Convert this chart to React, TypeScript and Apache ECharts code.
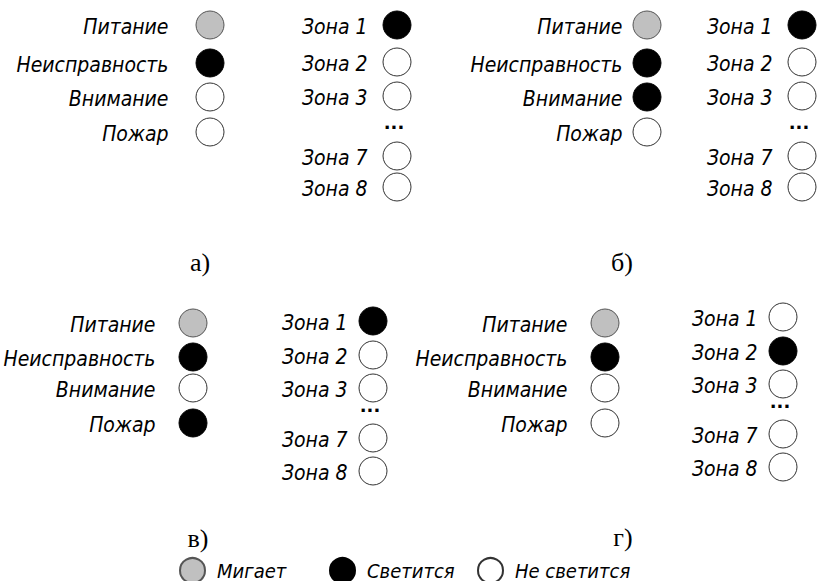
import React, { useEffect, useRef } from "react";
import * as echarts from "echarts";

// ---- data ----
const indicatorNames = ["Питание", "Неисправность", "Внимание", "Пожар"];
const zoneNames = ["Зона 1", "Зона 2", "Зона 3", "Зона 7", "Зона 8"];
const panelCaptions = ["а)", "б)", "в)", "г)"];
const stateNames = ["Мигает", "Светится", "Не светится"];
// 0 = Мигает, 1 = Светится, 2 = Не светится
const indicatorStatesA = [0, 1, 2, 2];
const indicatorStatesB = [0, 1, 1, 2];
const indicatorStatesC = [0, 1, 2, 1];
const indicatorStatesD = [0, 1, 2, 2];
const zoneStatesA = [1, 2, 2, 2, 2];
const zoneStatesB = [1, 2, 2, 2, 2];
const zoneStatesC = [1, 2, 2, 2, 2];
const zoneStatesD = [2, 1, 2, 2, 2];

// ---- layout ----
const W = 821;
const H = 581;
const FONT = '"DejaVu Sans Condensed", "DejaVu Sans", sans-serif';
const topIndOffsets = [0, 38, 72, 107];
const botIndOffsets = [0, 34, 65, 100];
const topZoneOffsets = [0, 37, 71, 131, 162];
const topDotsOffset = 102;
const botZoneOffsets = [0, 34, 67, 117, 150];
const botDotsOffset = 89;

const panels = [
  { ind: indicatorStatesA, zone: zoneStatesA, indX: 210, indY: 25, zoneX: 397, zoneY: 25, indGap: 27, zoneGap: 15, indOff: topIndOffsets, zoneOff: topZoneOffsets, dotsOff: topDotsOffset, cap: [200, 262] },
  { ind: indicatorStatesB, zone: zoneStatesB, indX: 647, indY: 25, zoneX: 802, zoneY: 25, indGap: 10, zoneGap: 15, indOff: topIndOffsets, zoneOff: topZoneOffsets, dotsOff: topDotsOffset, cap: [622, 262] },
  { ind: indicatorStatesC, zone: zoneStatesC, indX: 193, indY: 323, zoneX: 373, zoneY: 321, indGap: 23, zoneGap: 11, indOff: botIndOffsets, zoneOff: botZoneOffsets, dotsOff: botDotsOffset, cap: [198, 538] },
  { ind: indicatorStatesD, zone: zoneStatesD, indX: 605, indY: 323, zoneX: 783, zoneY: 317, indGap: 23, zoneGap: 11, indOff: botIndOffsets, zoneOff: botZoneOffsets, dotsOff: botDotsOffset, cap: [623, 537] },
];

const stateStyles = [
  { color: "#c0c0c0", borderColor: "#555", borderWidth: 1, opacity: 1 },
  { color: "#000000", borderColor: "#000", borderWidth: 1, opacity: 1 },
  { color: "#ffffff", borderColor: "#333", borderWidth: 1, opacity: 1 },
];

const labelText = {
  fontFamily: FONT,
  fontStyle: "italic" as const,
  fontSize: 21,
  color: "#000",
};

export default function App() {
  const ref = useRef<HTMLDivElement>(null);
  useEffect(() => {
    document.body.style.margin = "0";
    if (!ref.current) return;
    const chart = echarts.init(ref.current, undefined, { renderer: "svg" });

    const byState: any[][] = [[], [], []];
    const dots: any[] = [];
    panels.forEach((p) => {
      p.ind.forEach((s, i) => {
        byState[s].push({
          name: indicatorNames[i],
          value: [p.indX, p.indY + p.indOff[i]],
          label: { distance: p.indGap },
        });
      });
      p.zone.forEach((s, i) => {
        byState[s].push({
          name: zoneNames[i],
          value: [p.zoneX, p.zoneY + p.zoneOff[i]],
          label: { distance: p.zoneGap },
        });
      });
      dots.push({ name: "...", value: [p.zoneX - 3, p.zoneY + p.dotsOff] });
    });

    const series: any[] = stateNames.map((n, s) => ({
      type: "scatter",
      name: n,
      symbol: "circle",
      symbolSize: 28,
      data: byState[s],
      itemStyle: stateStyles[s],
      label: { show: true, position: "left", formatter: "{b}", offset: [0, 2], ...labelText },
      emphasis: { disabled: true },
      clip: false,
    }));
    series.push({
      type: "scatter",
      name: "dots",
      symbolSize: 0,
      data: dots,
      itemStyle: { opacity: 1 },
      label: {
        show: true,
        position: "inside",
        formatter: "{b}",
        fontFamily: "DejaVu Sans",
        fontWeight: "bold",
        fontSize: 18,
        color: "#000",
        offset: [0, -5],
      },
      emphasis: { disabled: true },
      clip: false,
    });

    const legendLefts = [179, 329, 477];
    const legends = stateNames.map((n, i) => ({
      data: [n],
      left: legendLefts[i],
      top: 557,
      padding: 0,
      icon: "circle",
      itemWidth: 25,
      itemHeight: 25,
      selectedMode: false,
      textStyle: { ...labelText, fontSize: 20, padding: [0, 0, 0, 7] },
    }));

    chart.setOption({
      animation: false,
      backgroundColor: "#ffffff",
      grid: { left: 0, right: 0, top: 0, bottom: 0 },
      xAxis: { type: "value", min: 0, max: W, show: false },
      yAxis: { type: "value", min: 0, max: H, inverse: true, show: false },
      legend: legends,
      graphic: panels.map((p, i) => ({
        type: "text",
        x: p.cap[0],
        y: p.cap[1],
        style: {
          text: panelCaptions[i],
          fontFamily: '"Liberation Serif", serif',
          fontSize: 26,
          fill: "#000",
          align: "center",
          verticalAlign: "middle",
        },
      })),
      series,
    });
    return () => chart.dispose();
  }, []);
  return <div ref={ref} style={{ width: W, height: H }} />;
}
